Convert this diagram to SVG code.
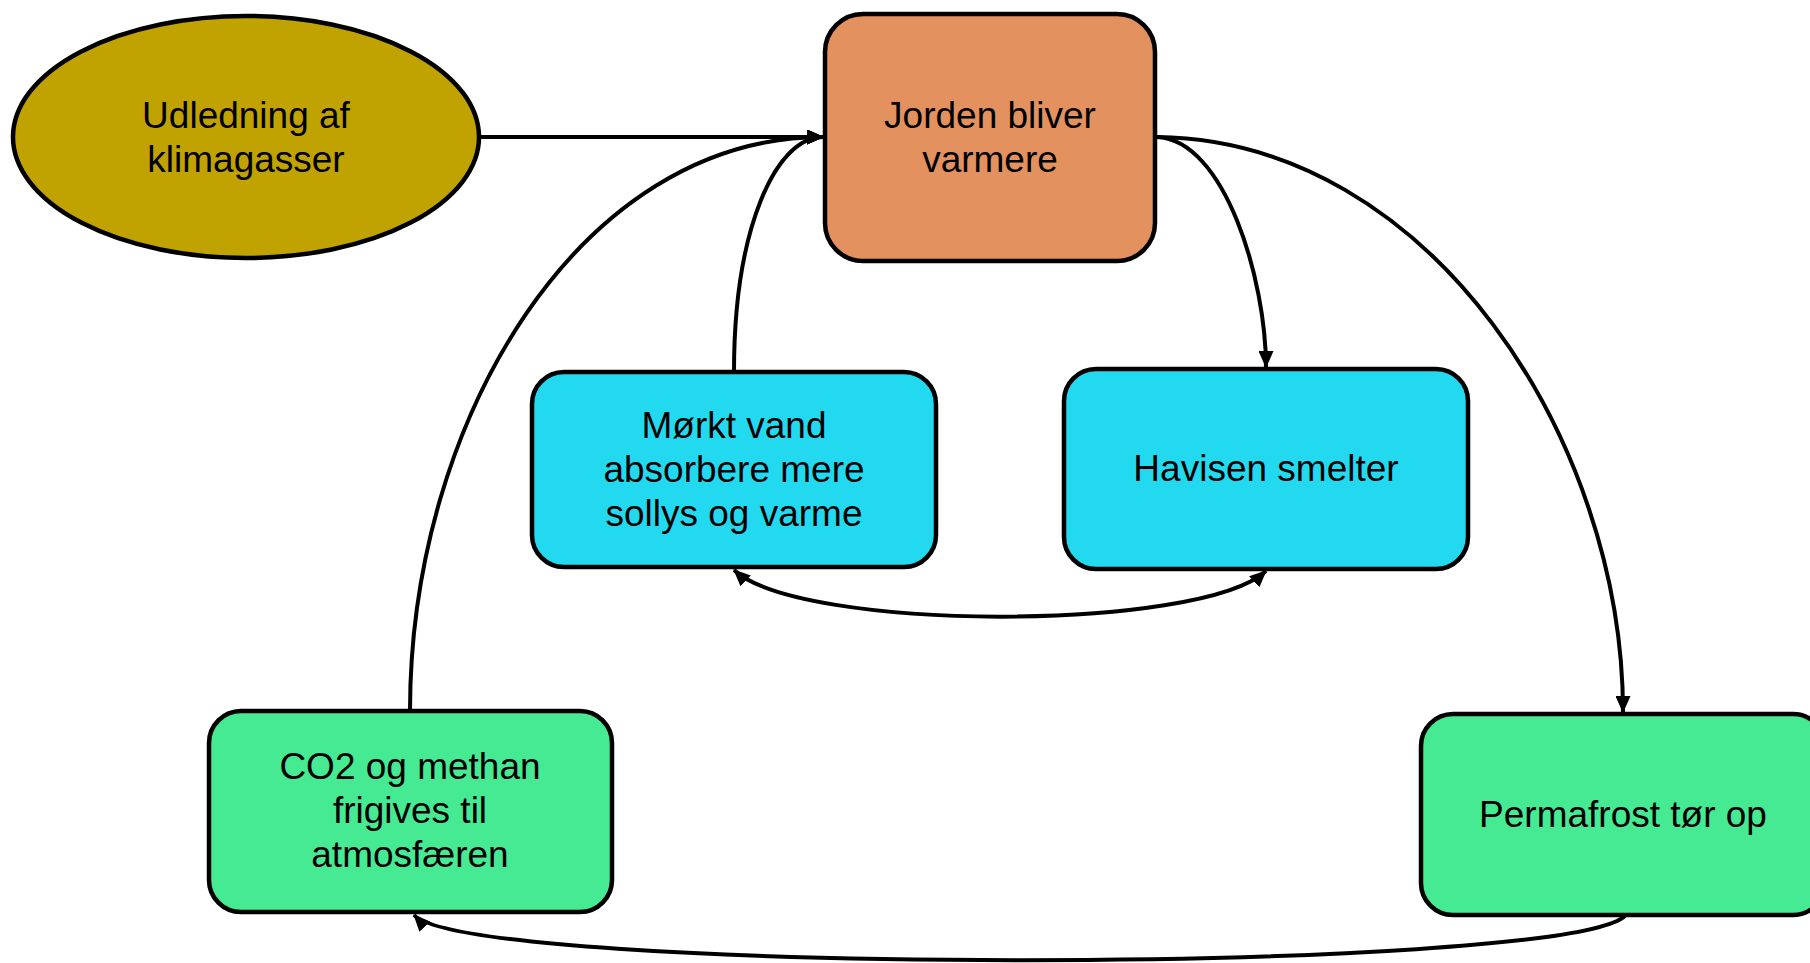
<svg xmlns="http://www.w3.org/2000/svg" width="1810" height="963" viewBox="0 0 1810 963">
  <style>
    .node { stroke: #000; stroke-width: 4.5; }
    .label { font-family: "Liberation Sans", Arial, sans-serif; font-size: 37px; fill: #000; text-anchor: middle; }
    .edge { fill: none; stroke: #000; stroke-width: 4; }
    .warm { fill: #E3915E; }
    .source { fill: #C0A200; }
    .ice { fill: #23D9F0; }
    .ground { fill: #46EA92; }
  </style>
  <defs>
    <marker id="arrow" viewBox="0 0 17 15" refX="16" refY="7.5" markerWidth="17" markerHeight="15" markerUnits="userSpaceOnUse" orient="auto-start-reverse">
      <path d="M0,0 L17,7.5 L0,15 z" fill="#000"/>
    </marker>
  </defs>

  <rect width="1810" height="963" fill="#fff"/>

  <g id="connectors">
    <!-- emissions to warming -->
    <path class="edge" d="M480,137 L823,137" marker-end="url(#arrow)"/>
    <!-- dark water feeds back into warming -->
    <path class="edge" d="M734,372 C734,230 775,137 823,137" marker-end="url(#arrow)"/>
    <!-- released gases feed back into warming -->
    <path class="edge" d="M410,711 C410,420 580,137 823,137" marker-end="url(#arrow)"/>
    <!-- warming melts sea ice -->
    <path class="edge" d="M1157,137 C1225,140 1266,280 1266,367" marker-end="url(#arrow)"/>
    <!-- warming thaws permafrost -->
    <path class="edge" d="M1157,137 C1430,140 1623,440 1623,712" marker-end="url(#arrow)"/>
    <!-- sea ice and dark water -->
    <path class="edge" d="M734,570 C800,632 1200,632 1266,571" marker-start="url(#arrow)" marker-end="url(#arrow)"/>
    <!-- permafrost releases gases -->
    <path class="edge" d="M1625,916 C1560,975 470,975 414,915" marker-end="url(#arrow)"/>
  </g>

  <g id="udledning">
    <ellipse class="node source" cx="246" cy="137" rx="233" ry="121"/>
    <text class="label" x="246" y="128">Udledning af</text>
    <text class="label" x="246" y="172">klimagasser</text>
  </g>

  <g id="jorden">
    <rect class="node warm" x="825" y="14" width="330" height="247" rx="38" ry="38"/>
    <text class="label" x="990" y="128">Jorden bliver</text>
    <text class="label" x="990" y="172">varmere</text>
  </g>

  <g id="moerkt-vand">
    <rect class="node ice" x="532" y="372" width="404" height="195" rx="32" ry="32"/>
    <text class="label" x="734" y="438">Mørkt vand</text>
    <text class="label" x="734" y="482">absorbere mere</text>
    <text class="label" x="734" y="526">sollys og varme</text>
  </g>

  <g id="havisen">
    <rect class="node ice" x="1064" y="369" width="404" height="200" rx="32" ry="32"/>
    <text class="label" x="1266" y="481">Havisen smelter</text>
  </g>

  <g id="co2-methan">
    <rect class="node ground" x="209" y="711" width="403" height="201" rx="32" ry="32"/>
    <text class="label" x="410" y="779">CO2 og methan</text>
    <text class="label" x="410" y="823">frigives til</text>
    <text class="label" x="410" y="867">atmosfæren</text>
  </g>

  <g id="permafrost">
    <rect class="node ground" x="1421" y="714" width="404" height="201" rx="32" ry="32"/>
    <text class="label" x="1623" y="827">Permafrost tør op</text>
  </g>
</svg>
